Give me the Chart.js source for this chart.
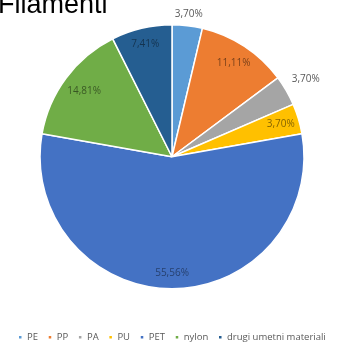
<!DOCTYPE html>
<html>
<head>
<meta charset="utf-8">
<script src="https://cdn.jsdelivr.net/npm/chart.js@4"></script>
<style>
  html, body { margin: 0; padding: 0; background: #fff; }
  #wrap { position: relative; width: 341px; height: 343px; }
</style>
</head>
<body>
<div id="wrap"><canvas id="graf"></canvas></div>
<script>
// Filamenti - deleži po materialu
const kategorije = ['PE', 'PP', 'PA', 'PU', 'PET', 'nylon', 'drugi umetni materiali'];
const deleži = [3.70, 11.11, 3.70, 3.70, 55.56, 14.81, 7.41];
const barve = ['#5B9BD5', '#ED7D31', '#A5A5A5', '#FFC000', '#4472C4', '#70AD47', '#255E91'];

// radialni položaj oznake (delež polmera) in barva besedila
const oznakePolozaj = [1.09, 0.85, 1.17, 0.86, 0.88, 0.83, 0.88];
const oznakeBarve = ['#595959', 'rgba(0,0,0,0.5)', '#595959', 'rgba(0,0,0,0.5)', 'rgba(0,0,0,0.45)', 'rgba(0,0,0,0.5)', 'rgba(0,0,0,0.45)'];

const oznakePlugin = {
    id: 'oznake',
    afterLayout(chart) {
        // legenda malo niže, čisto ob spodnjem robu
        const zamik = 9;
        chart.legend.top += zamik;
        chart.legend.bottom += zamik;
    },
    afterDatasetsDraw(chart) {
        const ctx = chart.ctx;
        const meta = chart.getDatasetMeta(0);
        ctx.save();
        ctx.font = '10px "Open Sans", sans-serif';
        ctx.textAlign = 'center';
        ctx.textBaseline = 'middle';
        meta.data.forEach((arc, i) => {
            const p = arc.getProps(['x', 'y', 'startAngle', 'endAngle', 'outerRadius'], true);
            const kot = (p.startAngle + p.endAngle) / 2;
            const r = p.outerRadius * oznakePolozaj[i];
            const besedilo = deleži[i].toFixed(2).replace('.', ',') + '%';
            ctx.fillStyle = oznakeBarve[i];
            ctx.fillText(besedilo, p.x + Math.cos(kot) * r, p.y + Math.sin(kot) * r);
        });
        // naslov
        ctx.font = '27px "Liberation Sans", Arial, sans-serif';
        ctx.textAlign = 'left';
        ctx.textBaseline = 'alphabetic';
        ctx.fillStyle = '#000';
        ctx.fillText('Filamenti', -2, 13);
        ctx.restore();
    }
};

const ctx = document.getElementById('graf').getContext('2d');
new Chart(ctx, {
    type: 'pie',
    data: {
        labels: kategorije,
        datasets: [{
            data: deleži,
            backgroundColor: barve,
            borderColor: '#fff',
            borderWidth: 1.5,
            radius: 132
        }]
    },
    options: {
        responsive: true,
        maintainAspectRatio: false,
        animation: false,
        layout: {
            padding: { top: 0, left: 3, right: 0, bottom: 0 }
        },
        plugins: {
            legend: {
                position: 'bottom',
                labels: {
                    boxWidth: 4,
                    boxHeight: 4,
                    padding: 10,
                    color: '#595959',
                    font: { size: 9.5, family: '"Open Sans", sans-serif' }
                }
            },
            tooltip: { enabled: false }
        }
    },
    plugins: [oznakePlugin]
});
</script>
</body>
</html>
